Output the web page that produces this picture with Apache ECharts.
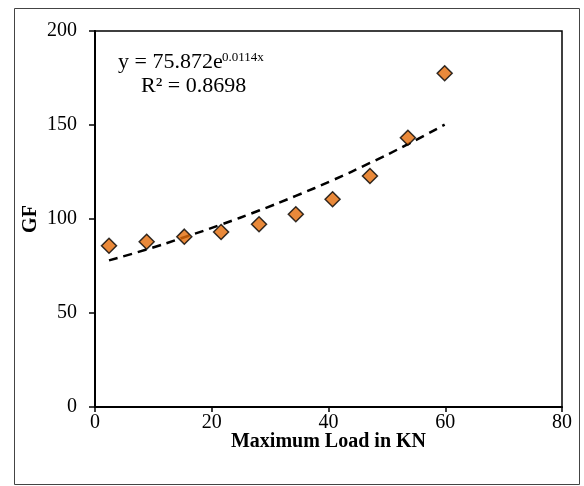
<!DOCTYPE html>
<html>
<head>
  <meta charset="utf-8">
</head>
<body style="margin: 0">
  <div id="container" style="width:584px;height:486px"></div>
  <script type="text/javascript" src="https://cdn.jsdelivr.net/npm/echarts@6.0.0/dist/echarts.min.js"></script>
  <script type="text/javascript">
    // values
    var loadKN = [2.4, 8.85, 15.3, 21.6, 28.1, 34.4, 40.7, 47.1, 53.6, 59.9];
    var gf = [85.8, 87.9, 90.6, 93.1, 97.2, 102.5, 110.5, 122.9, 143.2, 177.5];
    // dashed exponential trendline, read at the same x positions
    var trendGF = [78.0, 83.8, 90.3, 97.0, 104.5, 112.3, 120.6, 129.8, 139.8, 150.2];
    var xTicks = [0, 20, 40, 60, 80];
    var yTicks = [0, 50, 100, 150, 200];

    var serif = '"Liberation Serif", "Times New Roman", serif';

    var dom = document.getElementById('container');
    var myChart = echarts.init(dom, null, { renderer: 'canvas' });

    var points = loadKN.map(function (x, i) { return [x, gf[i]]; });
    var trend = loadKN.map(function (x, i) { return [x, trendGF[i]]; });

    var option = {
      backgroundColor: '#fff',
      animation: false,
      grid: {
        left: 95, right: 22, top: 31, bottom: 79,
        show: true, borderColor: '#000', borderWidth: 1.5
      },
      xAxis: {
        type: 'value',
        min: xTicks[0], max: xTicks[xTicks.length - 1], interval: 20,
        name: 'Maximum Load in KN',
        nameLocation: 'middle',
        nameGap: 25,
        nameMoveOverlap: false,
        nameTextStyle: { fontFamily: serif, fontSize: 20, fontWeight: 'bold', color: '#000' },
        axisLine: { lineStyle: { color: '#000', width: 2 } },
        axisTick: { show: true, inside: false, length: 5, lineStyle: { color: '#000', width: 1.5 } },
        axisLabel: { fontFamily: serif, fontSize: 20, color: '#000', margin: 6 },
        splitLine: { show: false }
      },
      yAxis: {
        type: 'value',
        min: yTicks[0], max: yTicks[yTicks.length - 1], interval: 50,
        name: 'GF',
        nameLocation: 'middle',
        nameRotate: 90,
        nameGap: 54,
        nameMoveOverlap: false,
        nameTextStyle: { fontFamily: serif, fontSize: 20, fontWeight: 'bold', color: '#000' },
        axisLine: { show: true, lineStyle: { color: '#000', width: 2 } },
        axisTick: { show: true, inside: false, length: 6, lineStyle: { color: '#000', width: 1.5 } },
        axisLabel: { fontFamily: serif, fontSize: 20, color: '#000', margin: 18 },
        splitLine: { show: false }
      },
      graphic: [
        {
          type: 'rect', left: 12, top: 6, z: -1, silent: true,
          shape: { width: 565, height: 476 },
          style: { fill: 'none', stroke: '#444', lineWidth: 1 }
        },
        {
          type: 'text', left: 118, top: 51,
          style: { text: 'y = 75.872e', font: '22px ' + serif, fill: '#000' }
        },
        {
          type: 'text', left: 222, top: 51,
          style: { text: '0.0114x', font: '13px ' + serif, fill: '#000' }
        },
        {
          type: 'text', left: 141, top: 75,
          style: { text: 'R\u00b2 = 0.8698', font: '22px ' + serif, fill: '#000' }
        }
      ],
      series: [
        {
          type: 'line',
          data: trend,
          smooth: true,
          symbol: 'none',
          lineStyle: { color: '#000', width: 2.5, type: [9, 6] },
          z: 2
        },
        {
          type: 'scatter',
          data: points,
          symbol: 'diamond',
          symbolSize: [15, 15],
          itemStyle: { color: '#E36C09', borderColor: '#000', borderWidth: 1.5 },
          z: 3
        }
      ]
    };

    myChart.setOption(option);
    window.addEventListener('resize', myChart.resize);
  </script>
</body>
</html>
